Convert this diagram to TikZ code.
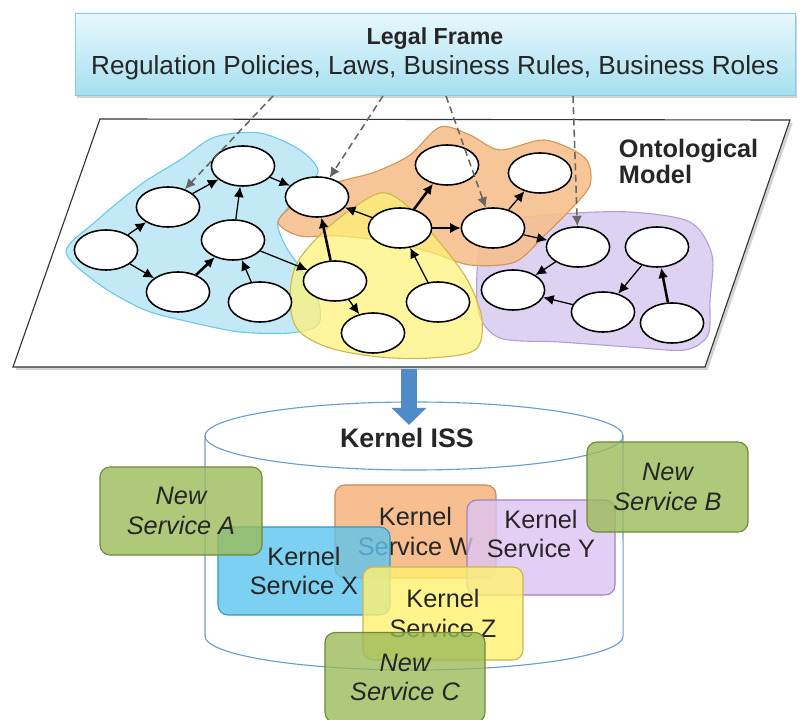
\documentclass[tikz,border=0pt]{standalone}
\usepackage{fontspec}
\setmainfont{Liberation Sans}
\usetikzlibrary{arrows.meta,positioning,shapes.geometric,shadows}

\definecolor{frametop}{HTML}{E8F8FD}
\definecolor{framebottom}{HTML}{A6DFF0}
\definecolor{frameline}{HTML}{86CDE4}
\definecolor{cyanfill}{HTML}{C3E9F7}
\definecolor{cyanline}{HTML}{6CCAE8}
\definecolor{orangefill}{HTML}{F6C08E}
\definecolor{orangeline}{HTML}{D8955A}
\definecolor{yellowfill}{HTML}{FFF173}
\definecolor{yellowline}{HTML}{CDB850}
\definecolor{purplefill}{HTML}{DDD2F1}
\definecolor{purpleline}{HTML}{B3A0D8}
\definecolor{issblue}{HTML}{4F8BC9}
\definecolor{issline}{HTML}{6A9CD0}
\definecolor{newgreen}{HTML}{9BBB59}
\definecolor{newgreenline}{HTML}{71893A}
\definecolor{wfill}{HTML}{F5AE74}
\definecolor{wline}{HTML}{C98A55}
\definecolor{xfill}{HTML}{5CC5EE}
\definecolor{xline}{HTML}{3C97BE}
\definecolor{yfill}{HTML}{DCC3F3}
\definecolor{yline}{HTML}{9F82BE}
\definecolor{zfill}{HTML}{FFF170}
\definecolor{zline}{HTML}{CBB457}

\begin{document}
\begin{tikzpicture}[x=0.025cm, y=-0.025cm,
    every node/.style={font=\fontsize{18}{21}\selectfont, text=black!85},
    concept/.style={draw, ellipse, line width=1.1pt, fill=white, minimum width=1.58cm, minimum height=1cm, inner sep=0pt},
    link/.style={-{Latex[length=2.6mm, width=2.5mm]}, line width=0.9pt},
    strong/.style={link, line width=1.8pt},
    legalref/.style={-{Latex[length=2.6mm, width=2.5mm]}, line width=1.1pt, dash pattern=on 5pt off 3pt, black!60},
    blob/.style={thick, smooth cycle},
    svc/.style={draw, rounded corners=0.25cm, thick, fill opacity=0.8, text opacity=1, align=center},
    newsvc/.style={svc, fill=newgreen, draw=newgreenline, font=\fontsize{18}{21}\selectfont\itshape}]
      \useasboundingbox (0,0) rectangle (803,720);
      \node[draw=frameline, top color=frametop, bottom color=framebottom, minimum width=18cm, minimum height=2.05cm, align=center, drop shadow={opacity=0.35, shadow xshift=1.5pt, shadow yshift=-2pt}] (legal) at (435,54) {\fontsize{16.5}{21}\selectfont\textbf{Legal Frame}\\\fontsize{18.6}{21}\selectfont Regulation Policies, Laws, Business Rules, Business Roles};
      \draw[thick, black!80, fill=white, drop shadow={opacity=0.35, shadow xshift=2pt, shadow yshift=-2pt}] (100,119) -- (790,120) -- (705,367) -- (13,367) -- cycle;
      \node[font=\fontsize{18}{18.5}\selectfont\bfseries, align=left, anchor=west] (onto) at (614,161) {Ontological\\Model};
      \draw[blob, fill=cyanfill, draw=cyanline] plot coordinates {(66,252) (95,222) (140,185) (180,160) (215,137) (260,133) (300,150) (318,172) (295,200) (278,222) (285,245) (300,268) (318,300) (318,325) (290,333) (240,332) (190,322) (145,310) (100,285)};
      \draw[blob, fill=purplefill, draw=purpleline] plot coordinates {(480,245) (500,222) (560,214) (630,212) (690,222) (712,255) (710,300) (708,335) (685,350) (630,347) (560,342) (500,338) (478,310)};
      \draw[blob, fill=orangefill, draw=orangeline, fill opacity=0.9] plot coordinates {(278,222) (300,200) (335,183) (375,172) (410,155) (440,127) (470,135) (500,150) (545,140) (585,158) (590,185) (570,210) (545,235) (515,262) (470,265) (430,252) (390,242) (340,236) (300,236)};
      \draw[blob, fill=yellowfill, draw=yellowline, fill opacity=0.7] plot[tension=0.55] coordinates {(380,193) (350,210) (320,235) (296,265) (290,300) (298,330) (330,348) (380,357) (430,358) (475,350) (482,320) (470,285) (450,255) (420,220) (400,200)};
      \node[concept] (n1) at (243,166) {};
      \node[concept] (n2) at (168,207) {};
      \node[concept] (n3) at (106,250) {};
      \node[concept] (n4) at (233,240) {};
      \node[concept] (n5) at (178,292) {};
      \node[concept] (n6) at (260,302) {};
      \node[concept] (n7) at (317,197) {};
      \node[concept] (n8) at (335,281) {};
      \node[concept] (n9) at (373,333) {};
      \node[concept] (n10) at (447,165) {};
      \node[concept] (n11) at (400,228) {};
      \node[concept] (n12) at (493,228) {};
      \node[concept] (n13) at (438,302) {};
      \node[concept] (n14) at (540,173) {};
      \node[concept] (n15) at (578,247) {};
      \node[concept] (n16) at (657,247) {};
      \node[concept] (n17) at (513,290) {};
      \node[concept] (n18) at (603,312) {};
      \node[concept] (n19) at (672,323) {};
      \draw[link] (n3) -- (n2);
      \draw[link] (n2) -- (n1);
      \draw[link] (n1) -- (n7);
      \draw[link] (n3) -- (n5);
      \draw[strong] (n5) -- (n4);
      \draw[link] (n4) -- (n1);
      \draw[link] (n6) -- (n4);
      \draw[link] (n4) -- (n8);
      \draw[strong] (n8) -- (n7);
      \draw[link] (n11) -- (n7);
      \draw[strong] (n11) -- (n10);
      \draw[link] (n11) -- (n12);
      \draw[link] (n13) -- (n11);
      \draw[link] (n8) -- (n9);
      \draw[link] (n12) -- (n14);
      \draw[link] (n12) -- (n15);
      \draw[link] (n15) -- (n17);
      \draw[link] (n16) -- (n18);
      \draw[link] (n18) -- (n17);
      \draw[strong] (n19) -- (n16);
      \coordinate (ref1) at (273,96);
      \coordinate (ref2) at (383,96);
      \coordinate (ref3) at (446,96);
      \coordinate (ref4) at (573,96);
      \draw[legalref] (ref1) -- (n2);
      \draw[legalref] (ref2) -- (n7);
      \draw[legalref] (ref3) -- (n12);
      \draw[legalref] (ref4) -- (n15);
      \draw[issline, thick, fill=white] (205,436) -- (205,636) arc[start angle=180, end angle=360, x radius=5.225cm, y radius=0.85cm] -- (623,436);
      \draw[issline, thick] (414,436) ellipse [x radius=5.225cm, y radius=0.85cm];
      \coordinate (modelbase) at (409,369);
      \coordinate (isstop) at (409,425);
      \draw[issblue, line width=0.42cm, -{Triangle[length=0.43cm, width=0.85cm]}] (modelbase) -- (isstop);
      \node[font=\fontsize{19}{21}\selectfont\bfseries] (iss) at (407,438) {Kernel ISS};
      \node[svc, fill=wfill, draw=wline, minimum width=4.025cm, minimum height=2.325cm] (servW) at (415.5,531.5) {Kernel\\Service W};
      \node[svc, fill=xfill, draw=xline, minimum width=4.3cm, minimum height=2.2cm] (servX) at (304,571) {Kernel\\Service X};
      \node[svc, fill=yfill, draw=yline, minimum width=3.7cm, minimum height=2.375cm] (servY) at (541,547.5) {};
      \node[align=center] (servYtext) at (541,534) {Kernel\\Service Y};
      \node[svc, fill=zfill, draw=zline, minimum width=4cm, minimum height=2.325cm] (servZ) at (443,613.5) {Kernel\\Service Z};
      \node[newsvc, minimum width=4.05cm, minimum height=2.2cm] (newA) at (181,511) {New\\Service A};
      \node[newsvc, minimum width=4.025cm, minimum height=2.25cm] (newB) at (667.5,487) {New\\Service B};
      \node[newsvc, minimum width=4cm, minimum height=2.25cm] (newC) at (405,677.5) {New\\Service C};
    \end{tikzpicture}
\end{document}
